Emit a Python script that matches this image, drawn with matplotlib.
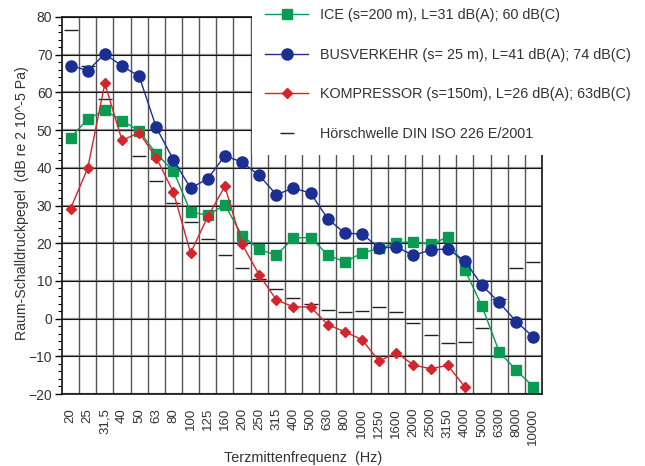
import matplotlib
matplotlib.use("Agg")
import matplotlib.pyplot as plt
import numpy as np
from matplotlib.patches import Rectangle
from matplotlib.lines import Line2D

plt.rcParams['font.family'] = ['Liberation Sans', 'DejaVu Sans']

# Terzmittenfrequenzen (Hz)
freqs = ['20', '25', '31,5', '40', '50', '63', '80', '100', '125', '160',
         '200', '250', '315', '400', '500', '630', '800', '1000', '1250',
         '1600', '2000', '2500', '3150', '4000', '5000', '6300', '8000',
         '10000']

ice = [48.0, 52.9, 55.3, 52.5, 49.8, 43.7, 39.2, 28.3, 27.4, 30.2,
       22.0, 18.4, 16.8, 21.4, 21.5, 16.9, 15.0, 17.4, 18.6, 20.1,
       20.4, 19.7, 21.6, 12.9, 3.3, -8.8, -13.7, -18.1]

bus = [67.1, 65.8, 70.2, 67.0, 64.3, 50.7, 42.1, 34.6, 37.1, 43.2,
       41.5, 38.0, 32.9, 34.6, 33.3, 26.5, 22.6, 22.5, 18.7, 19.0,
       16.8, 18.2, 18.5, 15.3, 8.8, 4.3, -0.8, -4.9]

kompressor = [29.2, 39.9, 62.4, 47.3, 49.3, 42.7, 33.5, 17.4, 27.0, 35.1,
              19.8, 11.6, 5.0, 3.1, 3.1, -1.6, -3.5, -5.6, -11.3, -9.0,
              -12.3, -13.3, -12.4, -18.1]

hoerschwelle = [76.6, 67.1, 58.2, 50.0, 43.2, 36.6, 30.7, 25.5, 21.2, 16.9,
                13.4, 10.5, 7.9, 5.5, 3.8, 2.4, 1.7, 2.1, 3.1, 1.7,
                -1.25, -4.4, -6.5, -6.1, -2.6, 5.2, 13.3, 14.9]

labels = ['ICE (s=200 m), L=31 dB(A); 60 dB(C)',
          'BUSVERKEHR (s= 25 m), L=41 dB(A); 74 dB(C)',
          'KOMPRESSOR (s=150m), L=26 dB(A); 63dB(C)',
          'Hörschwelle DIN ISO 226 E/2001']

GREEN = '#0a9a52'
BLUE = '#1b2f93'
RED = '#d1262d'
TXT = '#333333'

fig = plt.figure(figsize=(6.45, 4.66), dpi=100)
ax = fig.add_axes([62/645, 1 - 394/466, 480/645, 377/466])

x = np.arange(len(freqs))

# grid
for v in range(-20, 81, 10):
    ax.axhline(v, color='#8c8c8c', lw=1.6, zorder=0.5)
    ax.axhline(v, color='#111111', lw=0.7, zorder=0.6)
for b in np.arange(0.5, len(freqs) - 0.5, 1.0):
    ax.axvline(b, color='#555555', lw=1.0, zorder=0.5)

# Hoerschwelle
ax.plot(x, hoerschwelle, linestyle='none', marker='_', markersize=10,
        markeredgewidth=1.0, color='#222222', zorder=1)

ax.plot(x, ice, color=GREEN, lw=1.0, marker='s', markersize=7.5,
        markerfacecolor=GREEN, markeredgecolor=GREEN, zorder=3)
ax.plot(x, bus, color=BLUE, lw=1.0, marker='o', markersize=8,
        markerfacecolor=BLUE, markeredgecolor=BLUE, zorder=4)
ax.plot(x[:len(kompressor)], kompressor, color=RED, lw=1.0, marker='D',
        markersize=5.5, markerfacecolor=RED, markeredgecolor=RED, zorder=5)

ax.set_xlim(-0.5, len(freqs) - 0.5)
ax.set_ylim(-20, 80)
ax.set_xticks(x)
ax.set_xticklabels(freqs, rotation=90, fontsize=9.5, color=TXT)
ax.tick_params(axis='x', length=0, pad=10)
ax.set_yticks(range(-20, 81, 10))
ax.set_yticks(range(-20, 81, 2), minor=True)
ax.tick_params(axis='y', labelsize=10, labelcolor=TXT, length=5, width=1,
               direction='out', pad=2)
ax.tick_params(axis='y', which='minor', length=3, width=0.8)
for s in ax.spines.values():
    s.set_linewidth(1.2)
    s.set_color('#111111')

ax.set_ylabel('Raum-Schalldruckpegel  (dB re 2 10^-5 Pa)', fontsize=10.2,
              color=TXT)
ax.yaxis.set_label_coords((29 - 62) / 480, 0.505)
fig.text(303/645, 1 - 458/466, 'Terzmittenfrequenz  (Hz)', fontsize=10.4,
         color=TXT, ha='center', va='center')

# white area behind the legend
fig.add_artist(Rectangle((252/645, 1 - 155/466), 1, 1,
                         transform=fig.transFigure, facecolor='white',
                         edgecolor='none', zorder=2))

handles = [
    Line2D([], [], color=GREEN, lw=1.0, marker='s', markersize=7.5,
           markerfacecolor=GREEN, markeredgecolor=GREEN),
    Line2D([], [], color=BLUE, lw=1.0, marker='o', markersize=8,
           markerfacecolor=BLUE, markeredgecolor=BLUE),
    Line2D([], [], color=RED, lw=1.0, marker='D', markersize=5.5,
           markerfacecolor=RED, markeredgecolor=RED),
    Line2D([], [], linestyle='none', marker='_', markersize=10,
           markeredgewidth=1.0, color='#222222'),
]
leg = fig.legend(handles, labels, loc='upper left',
                 bbox_to_anchor=(262/645, 1 - 5/466), frameon=False,
                 fontsize=10.4, labelspacing=1.78, handlelength=3.0,
                 handletextpad=0.8, borderaxespad=0, borderpad=0.2)
leg.set_zorder(3)
for t in leg.get_texts():
    t.set_color(TXT)

fig.savefig('out.png', dpi=100)
